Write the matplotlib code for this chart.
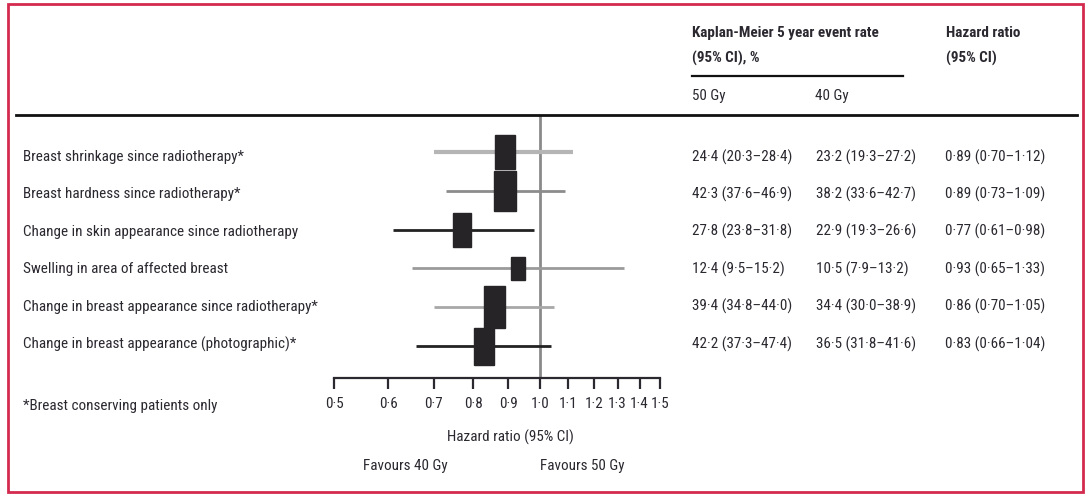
import numpy as np
import matplotlib
matplotlib.use("Agg")
import matplotlib.pyplot as plt
from matplotlib.patches import Rectangle
from matplotlib import font_manager

# narrowest installed family we can find
installed = {f.name for f in font_manager.fontManager.ttflist}
family = 'DejaVu Sans'
for cand in ['Liberation Sans Narrow', 'Roboto Condensed', 'Lato', 'Liberation Sans']:
    if cand in installed:
        family = cand
        break
plt.rcParams['font.family'] = [family, 'DejaVu Sans']

# data
outcomes = [
    "Breast shrinkage since radiotherapy*",
    "Breast hardness since radiotherapy*",
    "Change in skin appearance since radiotherapy",
    "Swelling in area of affected breast",
    "Change in breast appearance since radiotherapy*",
    "Change in breast appearance (photographic)*",
]
hr = [0.89, 0.89, 0.77, 0.93, 0.86, 0.83]
hr_lo = [0.70, 0.73, 0.61, 0.65, 0.70, 0.66]
hr_hi = [1.12, 1.09, 0.98, 1.33, 1.05, 1.04]
rate_50 = ["24·4 (20·3–28·4)", "42·3 (37·6–46·9)", "27·8 (23·8–31·8)",
           "12·4 (9·5–15·2)", "39·4 (34·8–44·0)", "42·2 (37·3–47·4)"]
rate_40 = ["23·2 (19·3–27·2)", "38·2 (33·6–42·7)", "22·9 (19·3–26·6)",
           "10·5 (7·9–13·2)", "34·4 (30·0–38·9)", "36·5 (31·8–41·6)"]
hr_text = ["0·89 (0·70–1·12)", "0·89 (0·73–1·09)", "0·77 (0·61–0·98)",
           "0·93 (0·65–1·33)", "0·86 (0·70–1·05)", "0·83 (0·66–1·04)"]
ticks = [0.5, 0.6, 0.7, 0.8, 0.9, 1.0, 1.1, 1.2, 1.3, 1.4, 1.5]

# drawing styles (box sizes in pixels, line colours)
box_w = [20, 21.5, 18, 14, 21, 20]
box_h = [34, 40, 34, 23, 42, 37]
line_col = ['#b5b5b5', '#8c8c8c', '#222222', '#9a9a9a', '#a8a8a8', '#222222']
line_lw = [3.0, 2.0, 2.0, 2.0, 2.0, 2.0]

W, H = 1089, 494
fig = plt.figure(figsize=(W / 100, H / 100), dpi=100)
txt_col = '#2b2830'

# pick the font size so the longest label is as wide as in the reference (292 px)
renderer = fig.canvas.get_renderer()
probe = fig.text(0, 0, outcomes[4], fontsize=10)
wpx = probe.get_window_extent(renderer).width
probe.remove()
fs = 10 * 292 / wpx


def fx(x):
    return x / W


def fy(y):
    return 1 - y / H


# red frame round the figure
fig.patches.append(Rectangle((fx(8), fy(492)), fx(1083) - fx(8), fy(4) - fy(492),
                             transform=fig.transFigure, fill=False,
                             edgecolor='#d42a4e', lw=2.0))

# header rule and the short one under the KM header
fig.add_artist(plt.Line2D([fx(16), fx(1077)], [fy(115), fy(115)], color='#111111', lw=2.0))
fig.add_artist(plt.Line2D([fx(692), fx(903)], [fy(76), fy(76)], color='#111111', lw=1.6))

# forest axes, spanning pixels x 334..660 and y 115..378
x0, x1 = 334, 660
y_top, y_bot = 115, 378
ax = fig.add_axes([fx(x0), fy(y_bot), fx(x1) - fx(x0), fy(y_top) - fy(y_bot)])
ax.set_xscale('log')
ax.set_xlim(0.5, 1.5)
row_px = 38.8
row0 = 152
ax.set_ylim((y_bot - row0) / row_px, (y_top - row0) / row_px)
px_per_log = (x1 - x0) / np.log(1.5 / 0.5)

ax.axvline(1.0, color='#8a8a8a', lw=2.0, zorder=1)
for i in range(len(hr)):
    ax.plot([hr_lo[i], hr_hi[i]], [i, i], color=line_col[i], lw=line_lw[i],
            solid_capstyle='butt', zorder=2)
    f = np.exp(box_w[i] / 2 / px_per_log)
    h = box_h[i] / row_px
    ax.add_patch(Rectangle((hr[i] / f, i - h / 2), hr[i] * f - hr[i] / f, h,
                           color='#262426', zorder=3))

for s in ['top', 'left', 'right']:
    ax.spines[s].set_visible(False)
ax.spines['bottom'].set_color('#2b2830')
ax.spines['bottom'].set_linewidth(1.6)
ax.set_yticks([])
ax.set_xticks(ticks)
ax.set_xticks([], minor=True)
ax.set_xticklabels([("%.1f" % t).replace('.', '·') for t in ticks],
                   fontsize=fs, color=txt_col)
ax.tick_params(axis='x', direction='out', length=8, width=1.6, color='#2b2830', pad=6)

# row texts
for i in range(len(hr)):
    y = fy(157 + i * 37.4)
    fig.text(fx(23), y, outcomes[i], fontsize=fs, color=txt_col, va='center')
    fig.text(fx(692), y, rate_50[i], fontsize=fs, color=txt_col, va='center')
    fig.text(fx(816), y, rate_40[i], fontsize=fs, color=txt_col, va='center')
    fig.text(fx(945), y, hr_text[i], fontsize=fs, color=txt_col, va='center')

# headers
fig.text(fx(692), fy(33), "Kaplan-Meier 5 year event rate", fontsize=fs, color=txt_col,
         va='center', fontweight='semibold')
fig.text(fx(692), fy(58), "(95% CI), %", fontsize=fs, color=txt_col, va='center',
         fontweight='semibold')
fig.text(fx(946), fy(33), "Hazard ratio", fontsize=fs, color=txt_col, va='center',
         fontweight='semibold')
fig.text(fx(946), fy(58), "(95% CI)", fontsize=fs, color=txt_col, va='center',
         fontweight='semibold')
fig.text(fx(692), fy(96), "50 Gy", fontsize=fs, color=txt_col, va='center')
fig.text(fx(815), fy(96), "40 Gy", fontsize=fs, color=txt_col, va='center')

# footnote and axis captions
fig.text(fx(23), fy(406), "*Breast conserving patients only", fontsize=fs, color=txt_col,
         va='center')
fig.text(fx(510), fy(437), "Hazard ratio (95% CI)", fontsize=fs, color=txt_col,
         va='center', ha='center')
fig.text(fx(405), fy(466), "Favours 40 Gy", fontsize=fs, color=txt_col,
         va='center', ha='center')
fig.text(fx(582), fy(466), "Favours 50 Gy", fontsize=fs, color=txt_col,
         va='center', ha='center')

fig.savefig("out.png", dpi=100)
